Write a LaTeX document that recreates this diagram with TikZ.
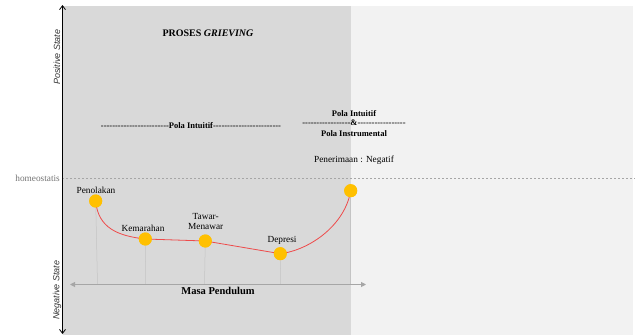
\documentclass[tikz,border=0pt]{standalone}
\usepackage{fontspec}
\setmainfont{Liberation Serif}[Ligatures=TeXOff]
\setsansfont{Liberation Sans}
\usetikzlibrary{arrows.meta}
\definecolor{panelDark}{HTML}{D9D9D9}
\definecolor{panelLight}{HTML}{F2F2F2}
\definecolor{stageDot}{HTML}{FFC000}
\definecolor{curveRed}{HTML}{EE4B4B}
\definecolor{guideGrey}{HTML}{C4C4C4}
\definecolor{axisGrey}{HTML}{A6A6A6}
\tikzset{
  stage/.style={circle, fill=stageDot, minimum size=13pt, inner sep=0pt},
  stagelabel/.style={font=\fontsize{9.3}{10}\selectfont, align=center, inner sep=0pt},
  polalabel/.style={font=\fontsize{8.5}{10}\selectfont\bfseries, inner sep=0pt},
  statelabel/.style={font=\fontsize{9}{10}\selectfont\sffamily\itshape, text=black!80, rotate=90, inner sep=0pt},
  guide/.style={draw=guideGrey, line width=0.5pt},
  curve/.style={draw=curveRed, line width=0.8pt},
}
\begin{document}
\begin{tikzpicture}[x=1pt, y=-1pt]
\useasboundingbox (0,0) rectangle (635,335);
% background panels
\fill[panelDark] (63,6) rectangle (351,335);
\fill[panelLight] (351,6) rectangle (633,335);

% homeostasis reference line
\coordinate (hL) at (62,178);
\coordinate (hR) at (635,178);
\draw[axisGrey, dashed, dash pattern=on 2pt off 2pt, line width=0.6pt] (hL) -- (hR);
\node[stagelabel, text=black!55, anchor=east] (homeo) at (60,178) {homeostatis};

% vertical state axis
\coordinate (vTop) at (62.5,5);
\coordinate (vBot) at (62.5,334);
\draw[line width=0.8pt, {Straight Barb[length=4pt,width=6pt]}-{Straight Barb[length=4pt,width=6pt]}] (vBot) -- (vTop);
\node[statelabel] (pos) at (57,57) {Positive State};
\node[statelabel] (neg) at (57,290) {Negative State};

% titles
\node[font=\fontsize{10}{12}\selectfont\bfseries, inner sep=0pt] (title) at (208,33) {PROSES \textit{GRIEVING}};
\node[polalabel] (polaA) at (191,126) {------------------------Pola Intuitif------------------------};
\node[polalabel] (polaB1) at (354,113.5) {Pola Intuitif};
\node[polalabel] (polaB2) at (354,123) {-----------------\&-----------------};
\node[polalabel] (polaB3) at (354,133.5) {Pola Instrumental};
\node[stagelabel] (accept) at (354,160) {Penerimaan : Negatif};

% stages
\node[stage] (s1) at (95.7,201) {};
\node[stage] (s2) at (145.3,239) {};
\node[stage] (s3) at (205.3,241) {};
\node[stage] (s4) at (280.3,253.7) {};
\node[stage] (s5) at (350.7,190.7) {};

% horizontal time axis
\coordinate (tL) at (70,284.5);
\coordinate (tR) at (366,284.5);
\coordinate (d1) at (97.5,284.5);
\coordinate (d2) at (145.7,284.5);
\coordinate (d3) at (204.5,284.5);
\coordinate (d4) at (280.7,284.5);
\coordinate (d5) at (350.7,284.5);
\draw[guide] (s1) -- (d1);
\draw[guide] (s2) -- (d2);
\draw[guide] (s3) -- (d3);
\draw[guide] (s4) -- (d4);
\draw[guide] (s5) -- (d5);
\draw[axisGrey, line width=0.9pt, {Triangle[length=5pt,width=5pt]}-{Triangle[length=5pt,width=5pt]}] (tL) -- (tR);
\node[font=\fontsize{10.5}{12}\selectfont\bfseries, inner sep=0pt] (masa) at (218,291) {Masa Pendulum};

% grieving curve
\draw[curve] (s1.center) .. controls (98,228) and (118,236) .. (s2.center)
  -- (s3.center) -- (s4.center) .. controls (310,250) and (345,225) .. (s5.center);
\foreach \s in {s1,s2,s3,s4,s5} \node[stage] at (\s) {};

% stage labels
\node[stagelabel] (l1) at (96,190.7) {Penolakan};
\node[stagelabel] (l2) at (143,228) {Kemarahan};
\node[stagelabel] (l3) at (205.7,221.5) {Tawar-\\Menawar};
\node[stagelabel] (l4) at (282,240.7) {Depresi};
\end{tikzpicture}
\end{document}
